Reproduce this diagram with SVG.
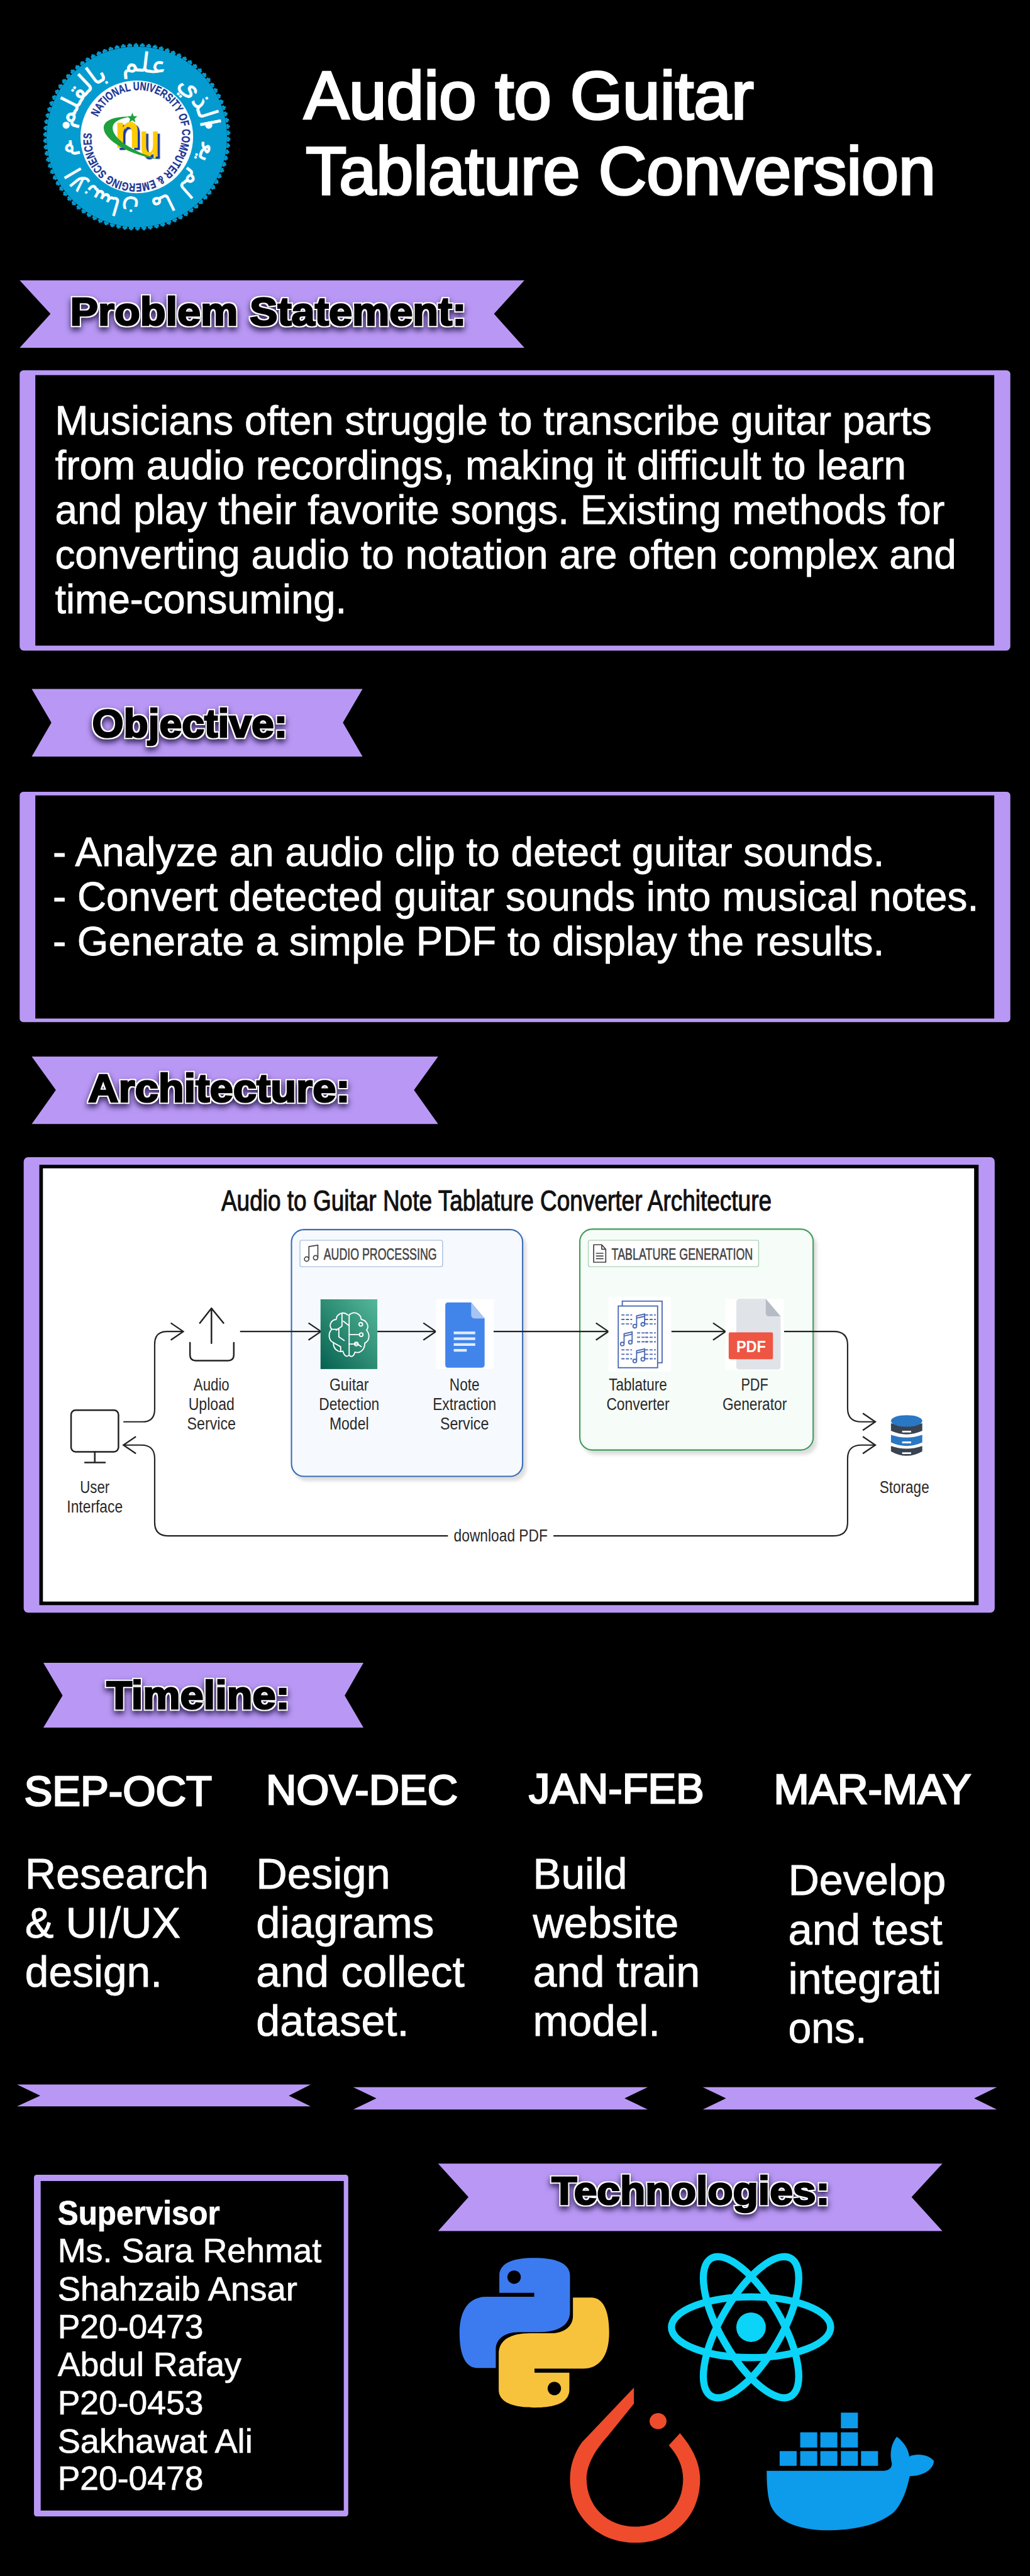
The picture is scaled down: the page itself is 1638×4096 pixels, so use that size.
<svg xmlns="http://www.w3.org/2000/svg" width="1638" height="4096" viewBox="0 0 1638 4096">
<style>
text{font-family:"Liberation Sans",Arial,sans-serif}
.ribbon{fill:#b998f5}
.frame{fill:#b998f5}
.hd{font-size:88px;font-weight:700;fill:#000;stroke:#000;stroke-width:3.5px;filter:url(#outline)}
.title{font-size:150px;fill:#fff;stroke:#fff;stroke-width:5px}
.body{font-size:91px;fill:#fff;stroke:#fff;stroke-width:1.2px}
.month{font-size:93px;fill:#fff;stroke:#fff;stroke-width:3.5px}
.tl{font-size:97px;fill:#fff;stroke:#fff;stroke-width:1.2px}
.sup{font-size:76px;fill:#fff;stroke:#fff;stroke-width:1px}
.lbl{font-size:38px;fill:#2a2a2a;text-anchor:middle}
.grp{font-size:35px;fill:#444;stroke:#444;stroke-width:.8px}
.conn{fill:none;stroke:#222;stroke-width:3px;stroke-linejoin:round}
.ic{fill:none;stroke:#222;stroke-width:3.5px;stroke-linecap:round;stroke-linejoin:round}
.tab{fill:none;stroke:#4a69b3;stroke-width:2.6px}
.brain{fill:none;stroke:#fff;stroke-width:2.6px;stroke-linecap:round;stroke-linejoin:round}
.navy{fill:#1c3796;font-weight:700;stroke:#1c3796;stroke-width:.5px}
.cont{fill:#0d9bec}
.ar{fill:#fff;stroke:#fff;stroke-width:1px}
.nu{font-size:108px;font-weight:700;fill:#ffcb05;filter:url(#nushade)}
</style>
<defs>
<filter id="outline" x="-10%" y="-30%" width="120%" height="170%" color-interpolation-filters="sRGB">
<feMorphology in="SourceAlpha" operator="dilate" radius="3" result="d"/>
<feFlood flood-color="#fff"/><feComposite in2="d" operator="in" result="w"/>
<feGaussianBlur in="d" stdDeviation="7" result="b"/>
<feOffset in="b" dy="7" result="bo"/>
<feFlood flood-color="#1d1040" flood-opacity=".85"/><feComposite in2="bo" operator="in" result="s"/>
<feMerge><feMergeNode in="s"/><feMergeNode in="w"/><feMergeNode in="SourceGraphic"/></feMerge>
</filter>
<filter id="nushade" x="-20%" y="-20%" width="150%" height="150%" color-interpolation-filters="sRGB"><feDropShadow dx="5" dy="5" stdDeviation="0" flood-color="#1e3a9f"/></filter>
<filter id="gs" x="-5%" y="-5%" width="112%" height="112%"><feDropShadow dx="7" dy="9" stdDeviation="4" flood-color="#000" flood-opacity=".13"/></filter>
<linearGradient id="sage" x1="1" y1="0" x2="0" y2="1"><stop offset="0" stop-color="#55b899"/><stop offset="1" stop-color="#066150"/></linearGradient>
<marker id="ah" markerUnits="userSpaceOnUse" markerWidth="40" markerHeight="50" refX="28" refY="19" orient="auto" overflow="visible"><path d="M0 0L28 19L0 38" fill="none" stroke="#222" stroke-width="3.2"/></marker>
<path id="arcTop" d="M163 281A145 145 0 0 1 449 281"/>
<path id="arcBot" d="M451 320A146 146 0 0 1 161 320"/>
<path id="ringNav" d="M218.8 261.9A98 98 0 1 1 393.2 350.1A98 98 0 1 1 218.8 261.9"/>
<path id="snake" d="M1194 5050C1150 5050 1117 5060 1117 5090V5128H1195V5137H1087C1050 5137 1028 5165 1028 5218C1028 5268 1042 5296 1068 5296H1109V5255C1109 5232 1128 5216 1160 5216H1205C1250 5216 1275 5200 1275 5170V5090C1275 5060 1240 5050 1194 5050Z"/>
<g id="dashes"><path class="tab" stroke-dasharray="7 3" d="M0 0H24M0 10H24M0 20H24"/></g>
<g id="note"><path class="tab" d="M4 24V2L22 -2V20"/><path class="tab" d="M4 7L22 3"/><circle class="tab" cx="0" cy="25" r="4"/><circle class="tab" cx="18" cy="21" r="4"/></g>
</defs>
<rect width="1638" height="4096" fill="#000"/>
<g transform="scale(.71094)">

<g id="logo">
<circle cx="306" cy="306" r="202" fill="#049cd0"/>
<circle cx="306" cy="306" r="204.5" fill="none" stroke="#049cd0" stroke-width="5" pathLength="90" stroke-dasharray=".75 .25"/>
<circle cx="306" cy="306" r="208" fill="none" stroke="#049cd0" stroke-width="3" pathLength="90" stroke-dasharray=".35 .65" stroke-dashoffset="-.2"/>
<circle cx="306" cy="306" r="126" fill="#fff"/>
<circle cx="148" cy="280" r="8" fill="#fff"/>
<circle cx="467" cy="280" r="8" fill="#fff"/>
<text class="ar" font-size="60" style="font-family:'DejaVu Sans',sans-serif" word-spacing="14" direction="rtl" text-anchor="middle"><textPath href="#arcTop" startOffset="50%">الذي علم بالقلم</textPath></text>
<text class="ar" font-size="54" style="font-family:'DejaVu Sans',sans-serif" word-spacing="6" direction="rtl" text-anchor="middle"><textPath href="#arcBot" startOffset="50%">علم الانسان ما لم يعلم</textPath></text>
<text class="navy" font-size="26"><textPath href="#ringNav" textLength="606" lengthAdjust="spacingAndGlyphs">NATIONAL UNIVERSITY OF COMPUTER &amp; EMERGING SCIENCES</textPath></text>
<text class="nu" x="256" y="331" textLength="58" lengthAdjust="spacingAndGlyphs">n</text>
<text class="nu" x="312" y="350" textLength="46" lengthAdjust="spacingAndGlyphs">u</text>
<path d="M293 261C253 260 231 270 232 287C233 313 287 347 358 357C306 343 253 313 252 287C252 273 267 265 293 261Z" fill="#1fa03c"/>
<polygon points="296,252 299,260 307,260 301,266 303,274 296,269 289,274 291,266 285,260 293,260" fill="#1fa03c"/>
</g>

<g id="title">
<text class="title" x="680" y="266" textLength="1006" lengthAdjust="spacingAndGlyphs">Audio to Guitar</text>
<text class="title" x="684" y="435" textLength="1409" lengthAdjust="spacingAndGlyphs">Tablature Conversion</text>
</g>

<g id="problem-banner">
<polygon class="ribbon" points="44,627 1173,627 1105,702 1173,778 44,778 113,702"/>
<text class="hd" x="157" y="727" textLength="886" lengthAdjust="spacingAndGlyphs">Problem Statement:</text>
</g>
<g id="problem-box">
<rect class="frame" x="44" y="828" width="2216" height="627" rx="9"/>
<rect x="79" y="839" width="2145" height="605" fill="#000"/>
<text class="body" x="123" y="972" textLength="1961" lengthAdjust="spacingAndGlyphs">Musicians often struggle to transcribe guitar parts</text>
<text class="body" x="123" y="1072" textLength="1904" lengthAdjust="spacingAndGlyphs">from audio recordings, making it difficult to learn</text>
<text class="body" x="123" y="1172" textLength="1990" lengthAdjust="spacingAndGlyphs">and play their favorite songs. Existing methods for</text>
<text class="body" x="123" y="1272" textLength="2016" lengthAdjust="spacingAndGlyphs">converting audio to notation are often complex and</text>
<text class="body" x="123" y="1372" textLength="652" lengthAdjust="spacingAndGlyphs">time-consuming.</text>
</g>

<g id="objective-banner">
<polygon class="ribbon" points="71,1541 811,1541 767,1616 811,1692 71,1692 115,1616"/>
<text class="hd" x="206" y="1648" textLength="437" lengthAdjust="spacingAndGlyphs">Objective:</text>
</g>
<g id="objective-box">
<rect class="frame" x="44" y="1771" width="2216" height="515" rx="8"/>
<rect x="79" y="1779" width="2145" height="499" fill="#000"/>
<text class="body" x="118" y="1937" textLength="1860" lengthAdjust="spacingAndGlyphs">- Analyze an audio clip to detect guitar sounds.</text>
<text class="body" x="118" y="2037" textLength="2071" lengthAdjust="spacingAndGlyphs">- Convert detected guitar sounds into musical notes.</text>
<text class="body" x="118" y="2137" textLength="1860" lengthAdjust="spacingAndGlyphs">- Generate a simple PDF to display the results.</text>
</g>

<g id="architecture-banner">
<polygon class="ribbon" points="71,2363 980,2363 926,2438 980,2514 71,2514 125,2438"/>
<text class="hd" x="197" y="2465" textLength="586" lengthAdjust="spacingAndGlyphs">Architecture:</text>
</g>

<g id="architecture-frame">
<rect class="frame" x="53" y="2588" width="2172" height="1019" rx="10"/>
<rect x="88" y="2605" width="2101" height="985" fill="#000"/>
<rect x="96" y="2613" width="2083" height="969" fill="#fff"/>
<text x="495" y="2708" font-size="66" fill="#111" stroke="#111" stroke-width="1.6" textLength="1231" lengthAdjust="spacingAndGlyphs">Audio to Guitar Note Tablature Converter Architecture</text>
</g>

<g id="audio-processing">
<rect x="652" y="2750" width="517" height="552" rx="28" fill="#f6f9fd" stroke="#3a6db5" stroke-width="3" filter="url(#gs)"/>
<rect x="671" y="2774" width="319" height="59" rx="4" fill="#fff" stroke="#a9c1e2" stroke-width="2"/>
<path class="ic" style="stroke:#444;stroke-width:2.4px" d="M691 2815V2788L711 2785V2812"/>
<circle cx="686" cy="2816" r="5" fill="none" stroke="#444" stroke-width="2.4"/>
<circle cx="706" cy="2813" r="5" fill="none" stroke="#444" stroke-width="2.4"/>
<text class="grp" x="724" y="2818" textLength="253" lengthAdjust="spacingAndGlyphs">AUDIO PROCESSING</text>
</g>

<g id="tablature-generation">
<rect x="1297" y="2749" width="522" height="494" rx="28" fill="#f6fcf7" stroke="#3f9c5a" stroke-width="3" filter="url(#gs)"/>
<rect x="1316" y="2774" width="381" height="59" rx="4" fill="#fff" stroke="#a9d4b5" stroke-width="2"/>
<path class="ic" style="stroke:#444;stroke-width:2.4px" d="M1328 2784H1346L1355 2794V2823H1328ZM1346 2784V2794H1355M1334 2803H1349M1334 2809H1349M1334 2815H1349"/>
<text class="grp" x="1368" y="2818" textLength="316" lengthAdjust="spacingAndGlyphs">TABLATURE GENERATION</text>
</g>

<g id="connectors">
<path class="conn" marker-end="url(#ah)" d="M276 3180H318Q346 3180 346 3152V3006Q346 2978 374 2978H410"/>
<path class="conn" marker-end="url(#ah)" d="M537 2978H718"/>
<path class="conn" marker-end="url(#ah)" d="M844 2978H975"/>
<path class="conn" marker-end="url(#ah)" d="M1104 2978H1361"/>
<path class="conn" marker-end="url(#ah)" d="M1502 2978H1623"/>
<path class="conn" marker-end="url(#ah)" d="M1754 2978H1865Q1896 2978 1896 3008V3150Q1896 3180 1927 3180H1958"/>
<path class="conn" marker-end="url(#ah)" d="M1238 3435H1865Q1896 3435 1896 3405V3262Q1896 3232 1927 3232H1958"/>
<path class="conn" marker-end="url(#ah)" d="M1002 3435H376Q346 3435 346 3405V3262Q346 3232 316 3232H276"/>
<text x="1015" y="3448" font-size="38" fill="#2a2a2a" textLength="210" lengthAdjust="spacingAndGlyphs">download PDF</text>
</g>

<g id="user-interface">
<rect class="ic" x="159" y="3154" width="106" height="93" rx="10"/>
<path class="ic" d="M212 3247V3271M190 3271H235"/>
<text class="lbl" x="212" y="3339" textLength="66" lengthAdjust="spacingAndGlyphs">User</text>
<text class="lbl" x="212" y="3383" textLength="125" lengthAdjust="spacingAndGlyphs">Interface</text>
</g>

<g id="upload-service">
<path class="ic" d="M473 3004V2926M447 2959L473 2926L500 2959M425 3003V3030Q425 3043 438 3043H510Q523 3043 523 3030V3003"/>
<text class="lbl" x="473" y="3110" textLength="80" lengthAdjust="spacingAndGlyphs">Audio</text>
<text class="lbl" x="473" y="3154" textLength="103" lengthAdjust="spacingAndGlyphs">Upload</text>
<text class="lbl" x="473" y="3197" textLength="109" lengthAdjust="spacingAndGlyphs">Service</text>
</g>

<g id="guitar-detection">
<rect x="717" y="2906" width="127" height="156" fill="url(#sage)"/>
<path class="brain" d="M778 2941C768 2932 753 2938 752 2951C740 2952 735 2965 742 2973C733 2983 735 2998 746 3003C745 3016 756 3026 767 3022C770 3032 775 3036 781 3031V2941"/>
<path class="brain" d="M781 2941C792 2931 807 2938 808 2951C820 2953 827 2966 820 2975C828 2985 827 2998 816 3004C816 3018 806 3028 794 3024C791 3034 786 3036 781 3031"/>
<path class="brain" d="M765 2938V2966L752 2975M742 2973H758V2990L770 2998M746 3003L762 3012V3022M781 2965L768 2955M781 2985H803M781 3006H800L808 3012"/>
<circle class="brain" cx="807" cy="2962" r="4"/><circle class="brain" cx="808" cy="2985" r="4"/><circle class="brain" cx="797" cy="3006" r="4"/>
<text class="lbl" x="781" y="3110" textLength="88" lengthAdjust="spacingAndGlyphs">Guitar</text>
<text class="lbl" x="781" y="3154" textLength="135" lengthAdjust="spacingAndGlyphs">Detection</text>
<text class="lbl" x="781" y="3197" textLength="88" lengthAdjust="spacingAndGlyphs">Model</text>
</g>

<g id="note-extraction">
<rect x="975" y="2906" width="129" height="156" fill="#fff"/>
<path d="M1002 2913H1054L1084 2949V3052Q1084 3059 1077 3059H1002Q996 3059 996 3052V2920Q996 2913 1002 2913Z" fill="#4285ea"/>
<path d="M1054 2913L1084 2949H1062Q1054 2949 1054 2941Z" fill="#a8c4f4"/>
<path d="M1015 2981H1063M1015 2994H1063M1015 3007H1063M1015 3020H1044" stroke="#fff" stroke-width="6" opacity=".85"/>
<text class="lbl" x="1039" y="3110" textLength="67" lengthAdjust="spacingAndGlyphs">Note</text>
<text class="lbl" x="1039" y="3154" textLength="142" lengthAdjust="spacingAndGlyphs">Extraction</text>
<text class="lbl" x="1039" y="3197" textLength="109" lengthAdjust="spacingAndGlyphs">Service</text>
</g>

<g id="tablature-converter">
<rect x="1361" y="2900" width="140" height="168" fill="#fff"/>
<path class="tab" d="M1392 2921V2910H1481V3048H1471"/>
<rect class="tab" x="1383" y="2921" width="88" height="138"/>
<use href="#dashes" x="1390" y="2941"/><use href="#note" x="1420" y="2941"/><use href="#dashes" x="1443" y="2941"/>
<use href="#note" x="1392" y="2981"/><use href="#dashes" x="1425" y="2981"/><use href="#dashes" x="1443" y="2981"/>
<use href="#dashes" x="1390" y="3019"/><use href="#note" x="1420" y="3019"/><use href="#dashes" x="1443" y="3019"/>
<text class="lbl" x="1427" y="3110" textLength="130" lengthAdjust="spacingAndGlyphs">Tablature</text>
<text class="lbl" x="1427" y="3154" textLength="141" lengthAdjust="spacingAndGlyphs">Converter</text>
</g>

<g id="pdf-generator">
<rect x="1623" y="2905" width="130" height="160" fill="#fff"/>
<path d="M1655 2905H1713L1746 2944V3056Q1746 3063 1738 3063H1655Q1647 3063 1647 3056V2913Q1647 2905 1655 2905Z" fill="#e0e3e8"/>
<path d="M1713 2905L1746 2944H1720Q1713 2944 1713 2937Z" fill="#b6bcc6"/>
<rect x="1630" y="2980" width="99" height="60" rx="3" fill="#ee5543"/>
<text x="1647" y="3024" font-size="35" font-weight="700" fill="#fff" textLength="66" lengthAdjust="spacingAndGlyphs">PDF</text>
<text class="lbl" x="1688" y="3110" textLength="61" lengthAdjust="spacingAndGlyphs">PDF</text>
<text class="lbl" x="1688" y="3154" textLength="144" lengthAdjust="spacingAndGlyphs">Generator</text>
</g>

<g id="storage">
<path d="M1993 3234Q2028 3246 2063 3234V3246Q2028 3266 1993 3246Z" fill="#3a4350"/>
<path d="M1993 3209Q2028 3221 2063 3209V3226Q2028 3242 1993 3226Z" fill="#2a77c4"/>
<path d="M1993 3183Q2028 3195 2063 3183V3200Q2028 3216 1993 3200Z" fill="#3a4350"/>
<ellipse cx="2028" cy="3178" rx="35" ry="13" fill="#2a77c4"/>
<path d="M2018 3202H2038M2018 3226H2038M2018 3250H2038" stroke="#fff" stroke-width="4"/>
<text class="lbl" x="2023" y="3339" textLength="111" lengthAdjust="spacingAndGlyphs">Storage</text>
</g>

<g id="timeline-banner">
<polygon class="ribbon" points="97,3719 813,3719 771,3792 813,3864 97,3864 140,3792"/>
<text class="hd" x="238" y="3822" textLength="410" lengthAdjust="spacingAndGlyphs">Timeline:</text>
</g>

<g id="timeline-sep-oct">
<text class="month" x="54" y="4038" textLength="420" lengthAdjust="spacingAndGlyphs">SEP-OCT</text>
<text class="tl" x="56" y="4224" textLength="411" lengthAdjust="spacingAndGlyphs">Research</text>
<text class="tl" x="56" y="4334" textLength="348" lengthAdjust="spacingAndGlyphs">&amp; UI/UX</text>
<text class="tl" x="56" y="4443" textLength="307" lengthAdjust="spacingAndGlyphs">design.</text>
</g>
<g id="timeline-nov-dec">
<text class="month" x="595" y="4036" textLength="429" lengthAdjust="spacingAndGlyphs">NOV-DEC</text>
<text class="tl" x="573" y="4224" textLength="300" lengthAdjust="spacingAndGlyphs">Design</text>
<text class="tl" x="573" y="4334" textLength="398" lengthAdjust="spacingAndGlyphs">diagrams</text>
<text class="tl" x="573" y="4443" textLength="466" lengthAdjust="spacingAndGlyphs">and collect</text>
<text class="tl" x="573" y="4553" textLength="342" lengthAdjust="spacingAndGlyphs">dataset.</text>
</g>
<g id="timeline-jan-feb">
<text class="month" x="1183" y="4033" textLength="392" lengthAdjust="spacingAndGlyphs">JAN-FEB</text>
<text class="tl" x="1192" y="4224" textLength="211" lengthAdjust="spacingAndGlyphs">Build</text>
<text class="tl" x="1192" y="4334" textLength="326" lengthAdjust="spacingAndGlyphs">website</text>
<text class="tl" x="1192" y="4443" textLength="374" lengthAdjust="spacingAndGlyphs">and train</text>
<text class="tl" x="1192" y="4553" textLength="285" lengthAdjust="spacingAndGlyphs">model.</text>
</g>
<g id="timeline-mar-may">
<text class="month" x="1731" y="4034" textLength="441" lengthAdjust="spacingAndGlyphs">MAR-MAY</text>
<text class="tl" x="1763" y="4238" textLength="353" lengthAdjust="spacingAndGlyphs">Develop</text>
<text class="tl" x="1763" y="4349" textLength="345" lengthAdjust="spacingAndGlyphs">and test</text>
<text class="tl" x="1763" y="4459" textLength="343" lengthAdjust="spacingAndGlyphs">integrati</text>
<text class="tl" x="1763" y="4569" textLength="176" lengthAdjust="spacingAndGlyphs">ons.</text>
</g>

<g id="timeline-ribbons">
<polygon class="ribbon" points="38,4662 695,4662 646,4687 695,4711 38,4711 90,4687"/>
<polygon class="ribbon" points="790,4668 1449,4668 1397,4693 1449,4718 790,4718 842,4693"/>
<polygon class="ribbon" points="1572,4668 2230,4668 2179,4693 2230,4718 1572,4718 1624,4693"/>
</g>

<g id="team-box">
<rect class="frame" x="76" y="4864" width="703" height="764" rx="6"/>
<rect x="91" y="4878" width="678" height="737" fill="#000"/>
<text class="sup" x="129" y="4975" font-weight="700" textLength="363" lengthAdjust="spacingAndGlyphs">Supervisor</text>
<text class="sup" x="129" y="5060" textLength="590" lengthAdjust="spacingAndGlyphs">Ms. Sara Rehmat</text>
<text class="sup" x="129" y="5145" textLength="536" lengthAdjust="spacingAndGlyphs">Shahzaib Ansar</text>
<text class="sup" x="129" y="5230" textLength="326" lengthAdjust="spacingAndGlyphs">P20-0473</text>
<text class="sup" x="129" y="5314" textLength="411" lengthAdjust="spacingAndGlyphs">Abdul Rafay</text>
<text class="sup" x="129" y="5400" textLength="326" lengthAdjust="spacingAndGlyphs">P20-0453</text>
<text class="sup" x="129" y="5485" textLength="436" lengthAdjust="spacingAndGlyphs">Sakhawat Ali</text>
<text class="sup" x="129" y="5569" textLength="326" lengthAdjust="spacingAndGlyphs">P20-0478</text>
</g>

<g id="technologies-banner">
<polygon class="ribbon" points="980,4839 2108,4839 2039,4914 2108,4990 980,4990 1048,4914"/>
<text class="hd" x="1234" y="4930" textLength="622" lengthAdjust="spacingAndGlyphs">Technologies:</text>
</g>

<g id="python-logo">
<use href="#snake" fill="#3b7bef"/>
<use href="#snake" fill="#f8c33c" transform="rotate(180 1195.3 5217.3)"/>
<circle cx="1150" cy="5093" r="15" fill="#000"/>
<circle cx="1240" cy="5342" r="15" fill="#000"/>
</g>
<g id="react-logo" fill="none" stroke="#0ad4f7" stroke-width="16">
<ellipse cx="1680" cy="5205" rx="178" ry="68"/>
<ellipse cx="1680" cy="5205" rx="178" ry="68" transform="rotate(60 1680 5205)"/>
<ellipse cx="1680" cy="5205" rx="178" ry="68" transform="rotate(120 1680 5205)"/>
<circle cx="1680" cy="5205" r="33" fill="#0ad4f7" stroke="none"/>
</g>
<g id="pytorch-logo" fill="#ee4c2c">
<path d="M1418 5340L1302 5462C1285 5485 1275 5515 1275 5544C1275 5630 1340 5687 1421 5687C1505 5687 1566 5630 1566 5544C1566 5505 1545 5470 1521 5442L1496 5469C1515 5490 1528 5515 1528 5544C1528 5605 1485 5651 1421 5651C1358 5651 1312 5605 1312 5544C1312 5510 1335 5475 1359 5449L1418 5376Z"/>
<ellipse cx="1472" cy="5415" rx="19" ry="18"/>
</g>
<g id="docker-logo">
<rect class="cont" x="1881" y="5396" width="38" height="35"/>
<rect class="cont" x="1790" y="5440" width="38" height="34"/>
<rect class="cont" x="1835" y="5440" width="38" height="34"/>
<rect class="cont" x="1881" y="5440" width="38" height="34"/>
<rect class="cont" x="1744" y="5482" width="38" height="33"/>
<rect class="cont" x="1790" y="5482" width="38" height="33"/>
<rect class="cont" x="1835" y="5482" width="38" height="33"/>
<rect class="cont" x="1881" y="5482" width="38" height="33"/>
<rect class="cont" x="1926" y="5482" width="38" height="33"/>
<path class="cont" d="M1715 5526H1976C1988 5526 1995 5520 1995 5510C1990 5490 1992 5468 2006 5450C2022 5462 2032 5478 2034 5494C2052 5486 2078 5490 2089 5504C2088 5525 2062 5538 2035 5538C2028 5570 2018 5600 1998 5620C1960 5650 1905 5659 1851 5659C1780 5659 1728 5635 1720 5590C1716 5570 1715 5550 1715 5526Z"/>
</g>
</g>
</svg>
